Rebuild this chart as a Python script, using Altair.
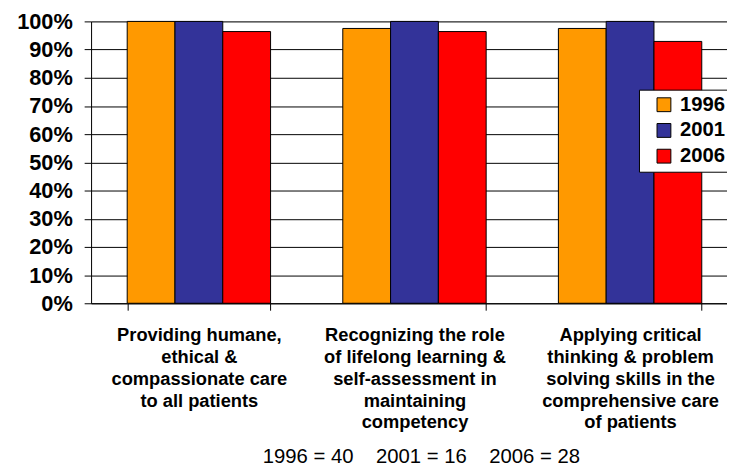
import altair as alt
import pandas as pd

categories = [
    "Providing humane,|ethical &|compassionate care|to all patients",
    "Recognizing the role|of lifelong learning &|self-assessment in|maintaining|competency",
    "Applying critical|thinking & problem|solving skills in the|comprehensive care|of patients",
]
years = ["1996", "2001", "2006"]
values_1996 = [1.0, 0.975, 0.975]
values_2001 = [1.0, 1.0, 1.0]
values_2006 = [0.964, 0.964, 0.929]
colors = ["#FF9900", "#333399", "#FF0000"]
footnote = ["1996 = 40\u00a0\u00a0\u00a0\u00a02001 = 16\u00a0\u00a0\u00a0\u00a02006 = 28"]

rows = []
for i, c in enumerate(categories):
    for y, vals in zip(years, [values_1996, values_2001, values_2006]):
        rows.append({"category": c, "year": y, "value": vals[i]})
df = pd.DataFrame(rows)

W, H = 643, 285
FONT = "Liberation Sans"

bars = alt.Chart(df).mark_bar(stroke="black", strokeWidth=1, clip=False).encode(
    x=alt.X(
        "category:N",
        sort=categories,
        scale=alt.Scale(range=[0, 654], paddingInner=0.335, paddingOuter=0.1675),
        axis=alt.Axis(
            title=None,
            labelAngle=0,
            labelExpr="split(datum.label, '|')",
            labelFont=FONT,
            labelFontSize=18.5,
            labelFontWeight="bold",
            labelColor="black",
            labelLineHeight=22,
            labelPadding=16,
            labelLimit=300,
            tickBand="extent",
            tickSize=7,
            tickColor="black",
            domainColor="black",
            labelBaseline="top",
        ),
    ),
    xOffset=alt.XOffset("year:N", sort=years, scale=alt.Scale(paddingInner=0, paddingOuter=0)),
    y=alt.Y(
        "value:Q",
        scale=alt.Scale(domain=[0, 1], nice=False),
        axis=alt.Axis(
            title=None,
            format=".0%",
            values=[i / 10 for i in range(11)],
            labelFont=FONT,
            labelFontSize=22,
            labelFontWeight="bold",
            labelColor="black",
            labelPadding=12,
            tickSize=7,
            tickColor="black",
            domainColor="black",
            grid=True,
            gridColor="black",
            gridOpacity=1,
            gridWidth=1,
        ),
    ),
    color=alt.Color(
        "year:N",
        sort=years,
        scale=alt.Scale(domain=years, range=colors),
        legend=alt.Legend(
            title=None,
            orient="none",
            legendX=554,
            legendY=69,
            fillColor="white",
            strokeColor="black",
            padding=5,
            symbolType="square",
            symbolSize=196,
            symbolStrokeColor="black",
            symbolStrokeWidth=1,
            symbolOpacity=1,
            symbolOffset=10,
            labelFont=FONT,
            labelFontSize=20.5,
            labelFontWeight="bold",
            labelColor="black",
            rowPadding=5,
            labelOffset=6,
            offset=0,
        ),
    ),
)

note = alt.Chart(pd.DataFrame({"t": footnote})).mark_text(
    font=FONT, fontSize=20.5, color="black", align="center", baseline="middle"
).encode(
    text="t:N",
    x=alt.value(334),
    y=alt.value(441),
)

chart = alt.layer(bars, note).properties(
    width=W,
    height=H,
    autosize=alt.AutoSizeParams(type="none"),
    padding={"left": 84, "top": 11, "right": 0, "bottom": 164},
).configure_view(stroke=None).configure(background="white")

chart.save("out.html", embed_options={"renderer": "svg", "actions": False})
